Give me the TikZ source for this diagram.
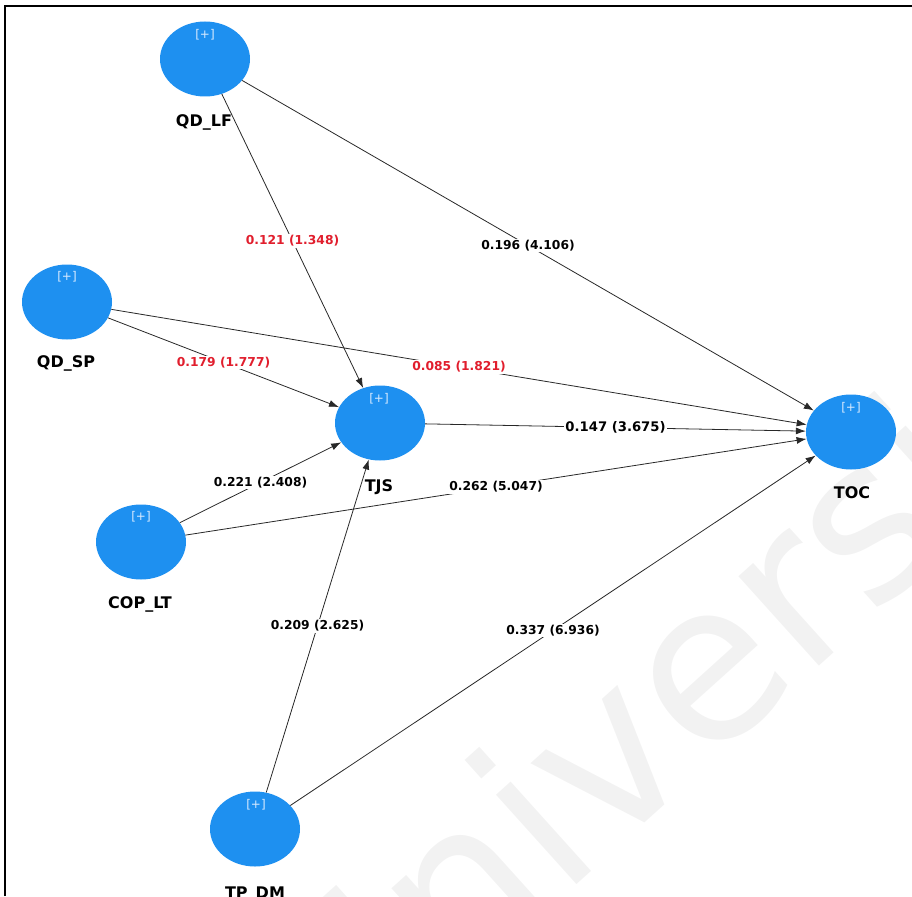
\documentclass[tikz,border=0pt]{standalone}
\usepackage{fontspec}
\setmainfont{DejaVu Sans}
\usetikzlibrary{shapes.geometric,arrows.meta}
\definecolor{lvblue}{RGB}{30,144,240}
\definecolor{pathred}{RGB}{225,30,45}
\definecolor{pathline}{RGB}{40,40,40}
\definecolor{plustext}{RGB}{215,234,255}
\begin{document}
\begin{tikzpicture}[x=1pt,y=-1pt,
  construct/.style={ellipse, fill=lvblue, minimum width=90pt, minimum height=75pt, inner sep=0pt},
  plus/.style={text=plustext, inner sep=0pt, font=\fontsize{12}{12}\selectfont},
  cname/.style={anchor=base, inner sep=0pt, font=\fontsize{16}{16}\selectfont\bfseries},
  pathedge/.style={draw=pathline, line width=0.8pt, -{Latex[length=10pt,width=7pt]}},
  coef/.style={fill=white, inner sep=1.5pt, text=black, font=\fontsize{12.3}{12.3}\selectfont\bfseries},
  weak/.style={coef, text=pathred},
  strongcoef/.style={coef, font=\fontsize{13.2}{13.2}\selectfont\bfseries},
]
\useasboundingbox (0,0) rectangle (912,896);

% faint background watermark
\begin{scope}
  \clip (5,6) rectangle (912,896);
  \node[rotate=42, text=black!5, font=\fontsize{220}{220}\selectfont] (wm) at (670,690) {Universiti};
\end{scope}

% frame
\draw[line width=2.5pt] (5,896) -- (5,6) -- (912,6);

% constructs
\node[construct] (qdlf) at (205,59) {};
\node[construct] (qdsp) at (67,302) {};
\node[construct] (tjs)  at (380,423) {};
\node[construct] (toc)  at (851,432) {};
\node[construct] (coplt) at (141,542) {};
\node[construct] (tpdm) at (255,829) {};

\node[plus] (qdlfp) at (205,35) {[+]};
\node[plus] (qdspp) at (67,277) {[+]};
\node[plus] (tjsp)  at (379,399) {[+]};
\node[plus] (tocp)  at (851,408) {[+]};
\node[plus] (copltp) at (141,517) {[+]};
\node[plus] (tpdmp) at (256,805) {[+]};

\node[cname] (qdlfn) at (204,127) {QD\_LF};
\node[cname] (qdspn) at (66,367) {QD\_SP};
\node[cname] (tjsn)  at (379,491) {TJS};
\node[cname] (tocn)  at (852,498) {TOC};
\node[cname] (copltn) at (140,608) {COP\_LT};
\node[cname] (tpdmn) at (255,898) {TP\_DM};

% structural paths
\draw[pathedge] (qdlf) -- node[weak] (c1) {0.121 (1.348)} (tjs);
\draw[pathedge] (qdlf) -- node[coef] (c2) {0.196 (4.106)} (toc);
\draw[pathedge] (qdsp) -- node[weak] (c3) {0.179 (1.777)} (tjs);
\draw[pathedge] (qdsp) -- node[weak] (c4) {0.085 (1.821)} (toc);
\draw[pathedge] (tjs) -- node[strongcoef] (c5) {0.147 (3.675)} (toc);
\draw[pathedge] (coplt) -- node[coef] (c6) {0.221 (2.408)} (tjs);
\draw[pathedge] (coplt) -- node[coef] (c7) {0.262 (5.047)} (toc);
\draw[pathedge] (tpdm) -- node[coef] (c8) {0.209 (2.625)} (tjs);
\draw[pathedge] (tpdm) -- node[coef] (c9) {0.337 (6.936)} (toc);
\end{tikzpicture}
\end{document}
